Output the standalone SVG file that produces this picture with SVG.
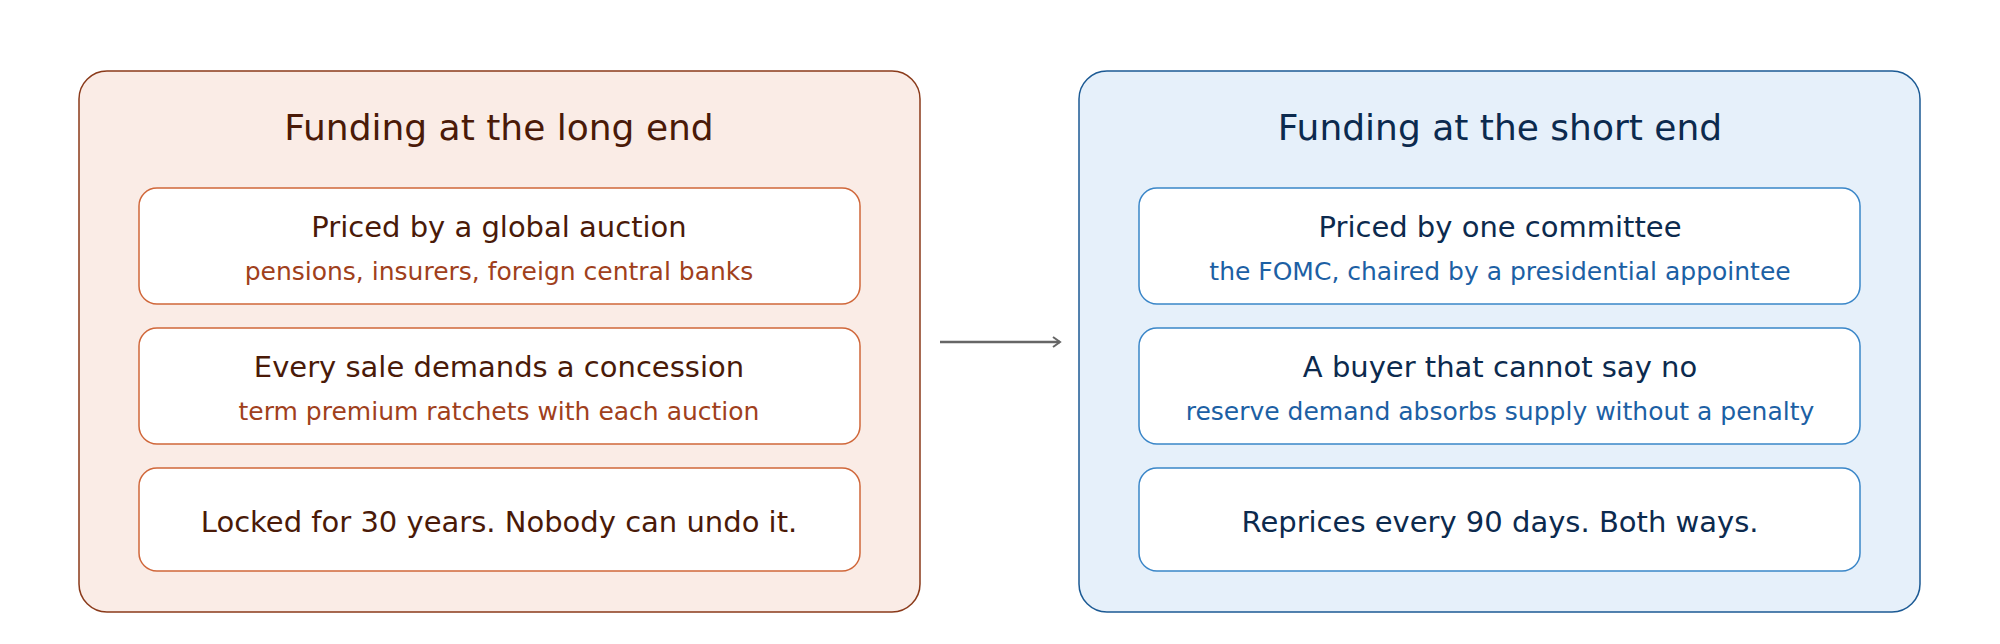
<svg xmlns="http://www.w3.org/2000/svg" width="2000" height="644" viewBox="0 0 2000 644">
<style>
text{font-family:"DejaVu Sans",sans-serif;text-anchor:middle}
.t{font-size:36px}.m{font-size:29px}.s{font-size:25px}
.lo{fill:#faece6;stroke:#8a3a1a;stroke-width:1.5}
.li{fill:#fff;stroke:#d0673a;stroke-width:1.5}
.ro{fill:#e6f0fa;stroke:#1c5a94;stroke-width:1.5}
.ri{fill:#fff;stroke:#3a86c8;stroke-width:1.5}
.ld{fill:#4a1a08}.ls{fill:#a0401c}.rd{fill:#0c2a4e}.rs{fill:#1c60a4}
</style>
<defs><marker id="a" markerWidth="12" markerHeight="12" refX="10" refY="6" orient="auto" markerUnits="userSpaceOnUse"><path d="M3,1 L10,6 L3,11" fill="none" stroke="#666" stroke-width="2"/></marker></defs>
<rect width="2000" height="644" fill="#fff"/>
<g id="long"><rect class="lo" x="79" y="71" width="841" height="541" rx="28"/>
<text class="t ld" x="499" y="140">Funding at the long end</text></g>
<g id="long1"><rect class="li" x="139" y="188" width="721" height="116" rx="18"/>
<text class="m ld" x="499" y="237">Priced by a global auction</text>
<text class="s ls" x="499" y="280">pensions, insurers, foreign central banks</text></g>
<g id="long2"><rect class="li" x="139" y="328" width="721" height="116" rx="18"/>
<text class="m ld" x="499" y="377">Every sale demands a concession</text>
<text class="s ls" x="499" y="420">term premium ratchets with each auction</text></g>
<g id="long3"><rect class="li" x="139" y="468" width="721" height="103" rx="18"/>
<text class="m ld" x="499" y="532">Locked for 30 years. Nobody can undo it.</text></g>
<g id="short"><rect class="ro" x="1079" y="71" width="841" height="541" rx="28"/>
<text class="t rd" x="1500" y="140">Funding at the short end</text></g>
<g id="short1"><rect class="ri" x="1139" y="188" width="721" height="116" rx="18"/>
<text class="m rd" x="1500" y="237">Priced by one committee</text>
<text class="s rs" x="1500" y="280">the FOMC, chaired by a presidential appointee</text></g>
<g id="short2"><rect class="ri" x="1139" y="328" width="721" height="116" rx="18"/>
<text class="m rd" x="1500" y="377">A buyer that cannot say no</text>
<text class="s rs" x="1500" y="420">reserve demand absorbs supply without a penalty</text></g>
<g id="short3"><rect class="ri" x="1139" y="468" width="721" height="103" rx="18"/>
<text class="m rd" x="1500" y="532">Reprices every 90 days. Both ways.</text></g>
<g id="connectors"><line x1="940" y1="342" x2="1060" y2="342" stroke="#666" stroke-width="2.5" marker-end="url(#a)"/></g>
</svg>
